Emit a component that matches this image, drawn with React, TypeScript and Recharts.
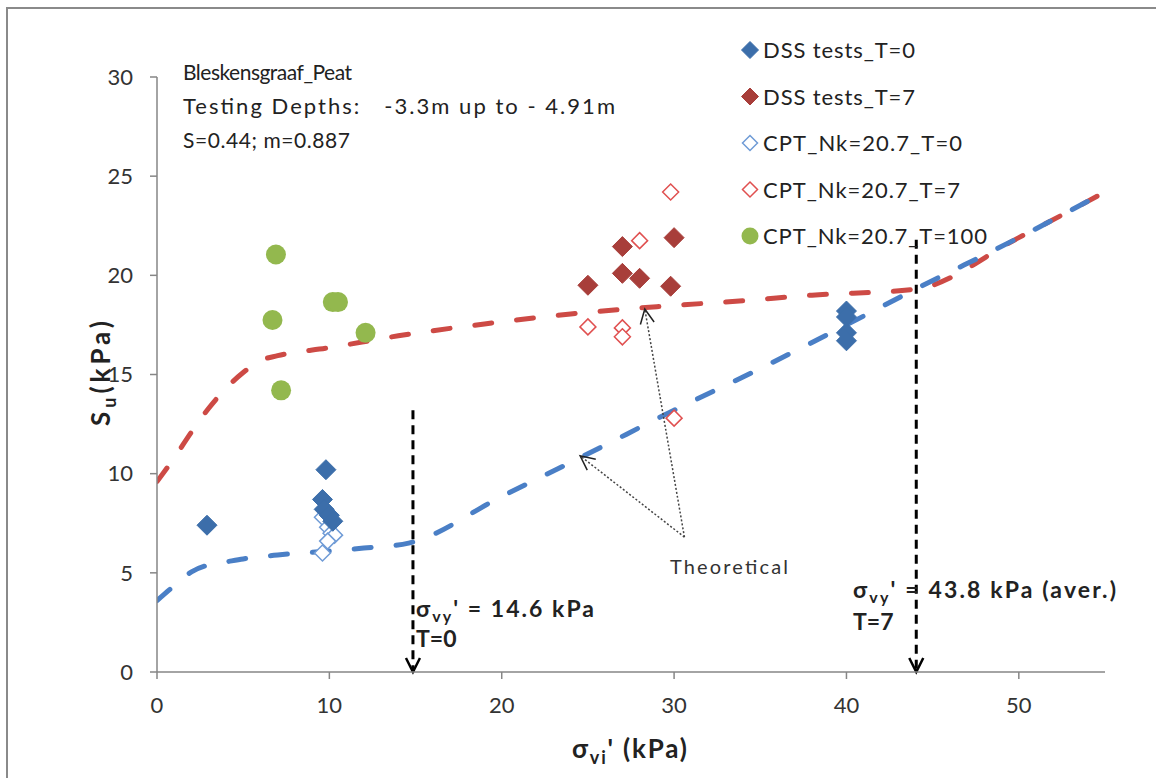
import { ComposedChart, Scatter, Line, XAxis, YAxis, ReferenceLine } from 'recharts'

// measured points (sigma_vi' kPa, Su kPa)
const dssT0 = [
  { x: 2.9, y: 7.4 }, { x: 9.8, y: 10.2 }, { x: 9.6, y: 8.7 }, { x: 9.7, y: 8.2 }, { x: 10.0, y: 7.9 },
  { x: 10.2, y: 7.6 }, { x: 40, y: 18.2 }, { x: 40, y: 17.9 }, { x: 40, y: 17.1 }, { x: 40, y: 16.7 },
]
const dssT7 = [
  { x: 25, y: 19.5 }, { x: 27, y: 21.45 }, { x: 27, y: 20.1 }, { x: 28, y: 19.85 }, { x: 29.8, y: 19.45 }, { x: 30, y: 21.9 },
]
const cptT0 = [
  { x: 9.6, y: 7.8 }, { x: 9.9, y: 7.3 }, { x: 10.1, y: 7.0 }, { x: 10.3, y: 6.9 }, { x: 9.9, y: 6.6 }, { x: 9.6, y: 6.0 },
]
const cptT7 = [
  { x: 25, y: 17.4 }, { x: 27, y: 17.35 }, { x: 27, y: 16.9 }, { x: 28, y: 21.75 }, { x: 29.8, y: 24.2 }, { x: 30, y: 12.8 },
]
const cptT100 = [
  { x: 6.9, y: 21.05 }, { x: 6.7, y: 17.75 }, { x: 10.2, y: 18.65 }, { x: 10.5, y: 18.65 }, { x: 12.1, y: 17.1 }, { x: 7.2, y: 14.2 },
]

// theoretical curves
const theoT7X = [0, 1, 2, 3, 4, 5, 6, 7, 10, 14, 19, 24, 29, 34, 38, 44, 50, 55]
const theoT7Y = [9.6, 10.8, 12.1, 13.3, 14.3, 15.1, 15.7, 15.95, 16.35, 16.95, 17.55, 18.05, 18.42, 18.72, 19.0, 19.3, 21.9, 24.2]
const theoT0X = [0, 1, 2, 3, 4, 5, 7, 10, 12, 14.6, 20, 25, 30, 35, 40, 44, 50, 55]
const theoT0Y = [3.6, 4.35, 5.05, 5.4, 5.55, 5.7, 5.9, 6.1, 6.25, 6.5, 8.85, 11.0, 13.2, 15.3, 17.5, 19.3, 21.9, 24.2]

const xTicks = [0, 10, 20, 30, 40, 50]
const yTicks = [0, 5, 10, 15, 20, 25, 30]

const yieldT0 = { x: 14.85, top: 13.2 }
const yieldT7 = { x: 44.05, top: 21.8 }
const theoOrigin = { x: 30.6, y: 6.8 }
const theoTips = [{ x: 24.55, y: 10.9 }, { x: 28.3, y: 18.3 }]

const toPts = (xs: number[], ys: number[]) => xs.map((x, i) => ({ x, y: ys[i] }))

const BLUE = '#3c6eaa'
const RED = '#a83e3a'
const GREEN = '#93b84e'
const FONT = 'Lato, "Liberation Sans", sans-serif'

const Diamond = ({ cx, cy, fill, stroke, r, sw }: any) => (
  <polygon
    points={`${cx},${cy - r} ${cx + r},${cy} ${cx},${cy + r} ${cx - r},${cy}`}
    fill={fill}
    stroke={stroke}
    strokeWidth={sw}
  />
)

const filledDiamond = (color: string) => (p: any) => <Diamond cx={p.cx} cy={p.cy} r={10} fill={color} stroke={color} sw={1} />
const openDiamond = (color: string) => (p: any) => <Diamond cx={p.cx} cy={p.cy} r={8} fill="#fff" stroke={color} sw={1.5} />
const dot = (p: any) => <circle cx={p.cx} cy={p.cy} r={10} fill={GREEN} />

const legendItems = [
  { name: 'DSS tests_T=0', kind: 'filled', color: BLUE, w: 152 },
  { name: 'DSS tests_T=7', kind: 'filled', color: RED, w: 152 },
  { name: 'CPT_Nk=20.7_T=0', kind: 'open', color: '#6f9bd6', w: 199 },
  { name: 'CPT_Nk=20.7_T=7', kind: 'open', color: '#e05050', w: 197 },
  { name: 'CPT_Nk=20.7_T=100', kind: 'circle', color: GREEN, w: 224 },
]

// vertical dashed yield arrow
const yieldArrow = (p: any) => (
  <g>
    <line x1={p.x1} y1={p.y1} x2={p.x2} y2={p.y2} stroke="#000" strokeWidth={3} strokeDasharray="9 6" />
    <polyline points={`${p.x2 - 7},${p.y2 - 14} ${p.x2},${p.y2} ${p.x2 + 7},${p.y2 - 14}`} fill="none" stroke="#000" strokeWidth={2.5} />
  </g>
)

// thin dotted arrow to the theoretical curve
const theoArrow = (p: any) => {
  const ang = Math.atan2(p.y2 - p.y1, p.x2 - p.x1)
  const L = 16
  const a1 = ang + Math.PI - 0.45
  const a2 = ang + Math.PI + 0.45
  return (
    <g>
      <line x1={p.x1} y1={p.y1} x2={p.x2} y2={p.y2} stroke="#444" strokeWidth={1.5} strokeDasharray="2 2" />
      <polyline
        points={`${p.x2 + L * Math.cos(a1)},${p.y2 + L * Math.sin(a1)} ${p.x2},${p.y2} ${p.x2 + L * Math.cos(a2)},${p.y2 + L * Math.sin(a2)}`}
        fill="none"
        stroke="#222"
        strokeWidth={1.5}
      />
    </g>
  )
}

const W = 1156
const H = 778

export default function App() {
  return (
    <div style={{ position: 'absolute', left: 0, top: 0, width: W, height: H, background: '#fff', fontFamily: FONT }}>
      <div style={{ position: 'absolute', left: 6, top: 7, width: W, height: H, borderLeft: '2px solid #8a8a8a', borderTop: '2px solid #8a8a8a' }} />
      <ComposedChart
        width={W}
        height={H}
        margin={{ top: 77, right: 51, bottom: 66, left: 97 }}
        style={{ position: 'absolute', left: 0, top: 0 }}
      >
        <XAxis
          type="number"
          dataKey="x"
          domain={[0, 55]}
          ticks={xTicks}
          allowDataOverflow
          height={40}
          stroke="#868686"
          strokeWidth={1.5}
          tickSize={7}
          tickMargin={18}
          tick={{ fontSize: 22, fill: '#333', fontFamily: FONT }}
        />
        <YAxis
          type="number"
          dataKey="y"
          domain={[0, 30]}
          ticks={yTicks}
          allowDataOverflow
          width={60}
          stroke="#868686"
          strokeWidth={1.5}
          tickSize={7}
          tickMargin={17}
          tick={{ fontSize: 22, fill: '#333', fontFamily: FONT }}
        />
        <Line data={toPts(theoT7X, theoT7Y)} dataKey="y" type="monotone" stroke="#cd4a45" strokeWidth={5}
          strokeDasharray="17 25" strokeLinecap="round" dot={false} isAnimationActive={false} />
        <Line data={toPts(theoT0X, theoT0Y)} dataKey="y" type="monotone" stroke="#4a7fc6" strokeWidth={5}
          strokeDasharray="17 25" strokeLinecap="round" dot={false} isAnimationActive={false} />
        <ReferenceLine segment={[{ x: yieldT0.x, y: yieldT0.top }, { x: yieldT0.x, y: 0 }]} shape={yieldArrow} ifOverflow="visible" />
        <ReferenceLine segment={[{ x: yieldT7.x, y: yieldT7.top }, { x: yieldT7.x, y: 0 }]} shape={yieldArrow} ifOverflow="visible" />
        {theoTips.map((t, i) => (
          <ReferenceLine key={i} segment={[theoOrigin, t]} shape={theoArrow} ifOverflow="visible" />
        ))}
        <Scatter data={cptT100} dataKey="y" shape={dot} isAnimationActive={false} />
        <Scatter data={cptT0} dataKey="y" shape={openDiamond('#6f9bd6')} isAnimationActive={false} />
        <Scatter data={dssT0} dataKey="y" shape={filledDiamond(BLUE)} isAnimationActive={false} />
        <Scatter data={dssT7} dataKey="y" shape={filledDiamond(RED)} isAnimationActive={false} />
        <Scatter data={cptT7} dataKey="y" shape={openDiamond('#e05050')} isAnimationActive={false} />
      </ComposedChart>
      <svg width={W} height={H} style={{ position: 'absolute', left: 0, top: 0, pointerEvents: 'none' }} fontFamily={FONT}>
        {legendItems.map((it, i) => {
          const y = 50 + i * 46.5
          return (
            <g key={it.name}>
              {it.kind === 'filled' && <Diamond cx={750} cy={y} r={8.5} fill={it.color} stroke={it.color} sw={1} />}
              {it.kind === 'open' && <Diamond cx={750} cy={y} r={7.5} fill="#fff" stroke={it.color} sw={1.5} />}
              {it.kind === 'circle' && <circle cx={750} cy={y} r={8.5} fill={it.color} />}
              <text x={763} y={y + 8} fontSize={22} fill="#222" textLength={it.w} lengthAdjust="spacing">{it.name}</text>
            </g>
          )
        })}
        <text x={183} y={80} fontSize={21} fill="#222" textLength={169} lengthAdjust="spacing">Bleskensgraaf_Peat</text>
        <text x={183} y={114} fontSize={22} fill="#222" xmlSpace="preserve" textLength={432} lengthAdjust="spacing">Testing Depths:   -3.3m up to - 4.91m</text>
        <text x={183} y={148} fontSize={21} fill="#222" textLength={167} lengthAdjust="spacing">S=0.44; m=0.887</text>
        <text x={670} y={574} fontSize={20} fill="#333" textLength={118} lengthAdjust="spacing">Theoretical</text>
        <text x={416} y={617} fontSize={23} fontWeight="bold" fill="#222" textLength={178} lengthAdjust="spacing">
          σ<tspan fontSize={16} dy={5}>vy</tspan><tspan dy={-5}>' = 14.6 kPa</tspan>
        </text>
        <text x={416} y={647} fontSize={23} fontWeight="bold" fill="#222">T=0</text>
        <text x={853} y={598} fontSize={23} fontWeight="bold" fill="#222" textLength={263} lengthAdjust="spacing">
          σ<tspan fontSize={16} dy={5}>vy</tspan><tspan dy={-5}>' = 43.8 kPa (aver.)</tspan>
        </text>
        <text x={853} y={630} fontSize={23} fontWeight="bold" fill="#222">T=7</text>
        <text x={572} y={758} fontSize={26} fontWeight="bold" fill="#222" textLength={115} lengthAdjust="spacing">
          σ<tspan fontSize={18} dy={6}>vi</tspan><tspan dy={-6}>' (kPa)</tspan>
        </text>
        <text transform="translate(110,426) rotate(-90)" fontSize={26} fontWeight="bold" fill="#222" textLength={105} lengthAdjust="spacing">
          S<tspan fontSize={18} dy={6}>u</tspan><tspan dy={-6}>(kPa)</tspan>
        </text>
      </svg>
    </div>
  )
}
